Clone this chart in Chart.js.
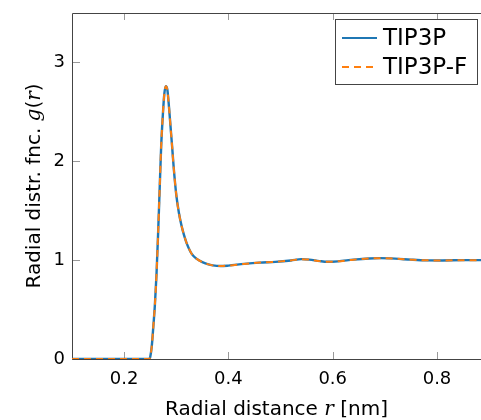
<!DOCTYPE html>
<html>
<head>
<meta charset="utf-8">
<script src="https://cdn.jsdelivr.net/npm/chart.js@4/dist/chart.umd.min.js"></script>
<style>
  html, body { margin: 0; padding: 0; background: #fff; }
</style>
</head>
<body>
<canvas id="chart-rdf" width="481" height="420"></canvas>
<script>
// radial distance r [nm] and g(r)
const r = [0.10, 0.20, 0.248, 0.250, 0.253, 0.256, 0.259, 0.262, 0.265, 0.268, 0.271, 0.274, 0.277, 0.280,
  0.283, 0.286, 0.289, 0.292, 0.295, 0.300, 0.305, 0.310, 0.315, 0.320, 0.330, 0.340, 0.350, 0.360, 0.370,
  0.385, 0.400, 0.430, 0.460, 0.490, 0.520, 0.540, 0.555, 0.575, 0.590, 0.610, 0.640, 0.670, 0.690, 0.720,
  0.750, 0.780, 0.810, 0.850, 0.885]
const tip3p = [0, 0, 0, 0.02, 0.13, 0.33, 0.55, 0.85, 1.25, 1.70, 2.15, 2.45, 2.68, 2.76,
  2.72, 2.55, 2.35, 2.15, 1.94, 1.66, 1.48, 1.35, 1.25, 1.17, 1.06, 1.01, 0.98, 0.96, 0.947,
  0.94, 0.945, 0.962, 0.975, 0.983, 0.997, 1.01, 1.005, 0.99, 0.983, 0.988, 1.005, 1.017, 1.02, 1.015,
  1.005, 0.998, 0.997, 1.0, 1.0]
const tip3pF = [0, 0, 0, 0.02, 0.13, 0.33, 0.55, 0.85, 1.25, 1.70, 2.15, 2.45, 2.68, 2.76,
  2.72, 2.55, 2.35, 2.15, 1.94, 1.66, 1.48, 1.35, 1.25, 1.17, 1.06, 1.01, 0.98, 0.96, 0.947,
  0.94, 0.945, 0.962, 0.975, 0.983, 0.997, 1.01, 1.005, 0.99, 0.983, 0.988, 1.005, 1.017, 1.02, 1.015,
  1.005, 0.998, 0.997, 1.0, 1.0]
const xTicks = [0.2, 0.4, 0.6, 0.8]
const yTicks = [0, 1, 2, 3]
const labels = ["TIP3P", "TIP3P-F"]

const font = '"DejaVu Sans", sans-serif'
const mathFont = '"DejaVu Serif", serif'

// text with italic math letters: parts = [[text, isMath], ...]
function drawParts(ctx, parts, size) {
  const fonts = parts.map(p => p[1] ? `italic ${size}px ${mathFont}` : `${size}px ${font}`)
  let w = 0
  parts.forEach((p, i) => { ctx.font = fonts[i]; w += ctx.measureText(p[0]).width })
  let x = -w / 2
  parts.forEach((p, i) => {
    ctx.font = fonts[i]
    ctx.fillText(p[0], x, 0)
    x += ctx.measureText(p[0]).width
  })
}

const framePlugin = {
  id: "frame",
  beforeDatasetsDraw(chart) {
    const { ctx, chartArea: a, scales } = chart
    ctx.save()
    ctx.strokeStyle = "#999"
    ctx.lineWidth = 1
    ctx.beginPath()
    xTicks.forEach(v => {
      const px = Math.round(scales.x.getPixelForValue(v)) + 0.5
      ctx.moveTo(px, a.bottom); ctx.lineTo(px, a.bottom - 7)
      ctx.moveTo(px, a.top); ctx.lineTo(px, a.top + 7)
    })
    yTicks.forEach(v => {
      const py = Math.round(scales.y.getPixelForValue(v)) + 0.5
      ctx.moveTo(a.left, py); ctx.lineTo(a.left + 8, py)
    })
    ctx.stroke()
    ctx.strokeStyle = "#444"
    ctx.beginPath()
    ctx.moveTo(a.right, a.top + 0.5)
    ctx.lineTo(a.left + 0.5, a.top + 0.5)
    ctx.lineTo(a.left + 0.5, a.bottom + 0.5)
    ctx.lineTo(a.right, a.bottom + 0.5)
    ctx.stroke()
    ctx.restore()
  },
  afterDraw(chart) {
    const { ctx, chartArea: a } = chart
    ctx.save()
    ctx.fillStyle = "#000"
    ctx.textBaseline = "alphabetic"
    // axis titles
    ctx.save()
    ctx.translate((a.left + a.right) / 2, 415)
    drawParts(ctx, [["Radial distance ", false], ["r", true], [" [nm]", false]], 20)
    ctx.restore()
    ctx.save()
    ctx.translate(39.5, (a.top + a.bottom) / 2)
    ctx.rotate(-Math.PI / 2)
    drawParts(ctx, [["Radial distr. fnc. ", false], ["g", true], ["(", false], ["r", true], [")", false]], 20)
    ctx.restore()

    // legend
    ctx.fillStyle = "#fff"
    ctx.fillRect(335.5, 19.5, 142, 65)
    ctx.strokeStyle = "#444"
    ctx.lineWidth = 1
    ctx.strokeRect(335.5, 19.5, 142, 65)
    chart.data.datasets.forEach((ds, i) => {
      const y = 38 + i * 29
      ctx.strokeStyle = ds.borderColor
      ctx.lineWidth = 2
      ctx.setLineDash(ds.borderDash || [])
      ctx.beginPath()
      ctx.moveTo(342, y); ctx.lineTo(377, y)
      ctx.stroke()
      ctx.setLineDash([])
      ctx.fillStyle = "#000"
      ctx.font = `23px ${font}`
      ctx.textBaseline = "middle"
      ctx.fillText(ds.label, 383, y + 1)
    })
    ctx.restore()
  }
}

new Chart(document.getElementById("chart-rdf"), {
  type: "line",
  data: {
    datasets: [{
      label: labels[0],
      data: r.map((v, i) => ({ x: v, y: tip3p[i] })),
      borderColor: "#1f77b4",
      borderWidth: 2.4,
      pointRadius: 0,
      order: 2,
      cubicInterpolationMode: "monotone"
    }, {
      label: labels[1],
      data: r.map((v, i) => ({ x: v, y: tip3pF[i] })),
      borderColor: "#ff7f0e",
      borderWidth: 2,
      borderDash: [7, 5],
      pointRadius: 0,
      order: 1,
      cubicInterpolationMode: "monotone"
    }]
  },
  options: {
    responsive: false,
    animation: false,
    devicePixelRatio: 1,
    layout: { padding: { top: 13, right: 0, left: 0, bottom: 0 } },
    plugins: { legend: { display: false }, tooltip: { enabled: false } },
    scales: {
      x: {
        type: "linear",
        min: 0.1,
        max: 0.8844,
        afterBuildTicks: s => { s.ticks = xTicks.map(v => ({ value: v })) },
        afterFit: s => { s.height = 61; s.paddingLeft = 0; s.paddingRight = 0 },
        grid: { display: false, drawTicks: false },
        border: { display: false },
        ticks: { color: "#000", padding: 10, font: { family: font, size: 18 }, callback: v => v.toFixed(1) }
      },
      y: {
        min: 0,
        max: 3.5,
        afterBuildTicks: s => { s.ticks = yTicks.map(v => ({ value: v })) },
        afterFit: s => { s.width = 72; s.paddingTop = 0; s.paddingBottom = 0 },
        grid: { display: false, drawTicks: false },
        border: { display: false },
        ticks: { color: "#000", padding: 7, font: { family: font, size: 18 }, callback: v => String(v) }
      }
    }
  },
  plugins: [framePlugin]
})
</script>
</body>
</html>
